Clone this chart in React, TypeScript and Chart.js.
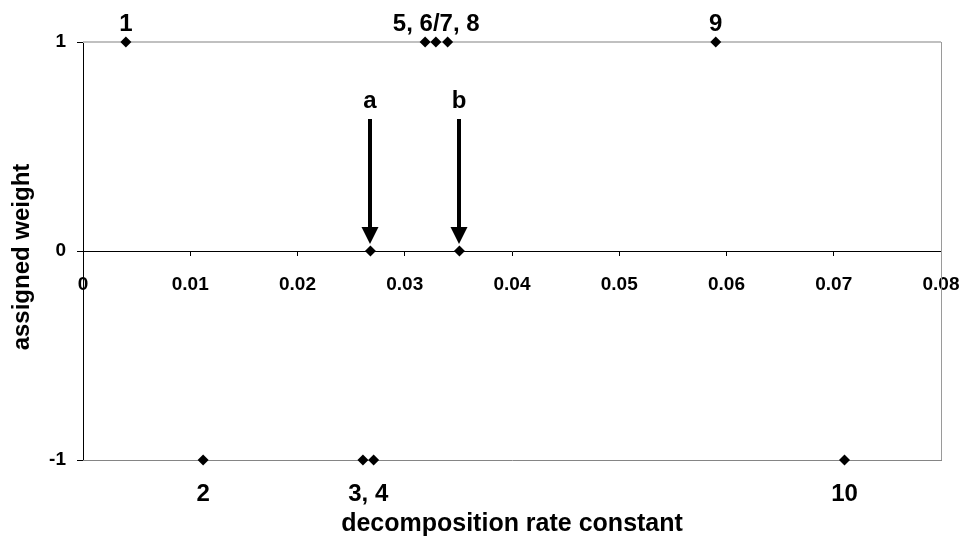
import React, { useEffect, useRef } from "react";
import { Chart, registerables } from "chart.js";

Chart.register(...registerables);

// ---- data ----
const compoundIds = ["1", "2", "3", "4", "5", "6/7", "8", "9", "10"];
const rateConstants = [0.004, 0.0112, 0.0261, 0.0271, 0.0319, 0.0329, 0.034, 0.059, 0.071];
const assignedWeights = [1, -1, -1, -1, 1, 1, 1, 1, -1];

const groupLabels = ["1", "2", "3, 4", "5, 6/7, 8", "9", "10"];
const groupMembers = [[0], [1], [2, 3], [4, 5, 6], [7], [8]];

const markerNames = ["a", "b"];
const markerRates = [0.0268, 0.0351];
const markerWeights = [0, 0];

const xTickMin = 0;
const xTickMax = 0.08;
const xTickStep = 0.01;
const yTickMin = -1;
const yTickMax = 1;
const yTickStep = 1;

const xTitle = "decomposition rate constant";
const yTitle = "assigned weight";

const FONT = '"Liberation Sans", Arial, sans-serif';

const decorPlugin = {
  id: "decor",
  beforeDatasetsDraw(chart: any) {
    const { ctx, chartArea } = chart;
    const { left, right, top, bottom } = chartArea;
    ctx.save();
    // top border
    ctx.strokeStyle = "#c0c0c0";
    ctx.lineWidth = 2;
    ctx.beginPath();
    ctx.moveTo(left, top);
    ctx.lineTo(right, top);
    ctx.stroke();
    // right border
    ctx.strokeStyle = "#9a9a9a";
    ctx.lineWidth = 1;
    ctx.beginPath();
    ctx.moveTo(right + 0.5, top);
    ctx.lineTo(right + 0.5, bottom);
    ctx.stroke();
    // bottom border
    ctx.strokeStyle = "#858585";
    ctx.beginPath();
    ctx.moveTo(left, bottom + 0.5);
    ctx.lineTo(right + 1, bottom + 0.5);
    ctx.stroke();
    ctx.restore();
  },
  afterDraw(chart: any) {
    const { ctx, chartArea, scales } = chart;
    const xs = scales.x;
    const ys = scales.y;
    ctx.save();
    ctx.fillStyle = "#000";
    ctx.strokeStyle = "#000";

    // group labels
    ctx.font = `bold 24px ${FONT}`;
    ctx.textAlign = "center";
    ctx.textBaseline = "alphabetic";
    groupLabels.forEach((lab, i) => {
      const mem = groupMembers[i];
      const xv = mem.reduce((s, k) => s + rateConstants[k], 0) / mem.length;
      const yv = assignedWeights[mem[0]];
      const px = xs.getPixelForValue(xv);
      const py = ys.getPixelForValue(yv);
      const ty = yv > 0 ? py - 11 : py + 41;
      ctx.fillText(lab, px, ty);
    });

    // arrows with labels
    markerNames.forEach((name, i) => {
      const px = Math.round(xs.getPixelForValue(markerRates[i]));
      const py = ys.getPixelForValue(markerWeights[i]);
      const tip = py - 7;
      const headBase = py - 24;
      const shaftTop = py - 132;
      ctx.fillRect(px - 2, shaftTop, 4, headBase - shaftTop + 1);
      ctx.beginPath();
      ctx.moveTo(px - 8.5, headBase);
      ctx.lineTo(px + 8.5, headBase);
      ctx.lineTo(px, tip);
      ctx.closePath();
      ctx.fill();
      ctx.fillText(name, px, py - 143);
    });

    // axis titles
    ctx.font = `bold 25px ${FONT}`;
    ctx.textAlign = "center";
    ctx.textBaseline = "alphabetic";
    ctx.fillText(xTitle, (chartArea.left + chartArea.right) / 2, 531);
    ctx.font = `bold 24px ${FONT}`;
    ctx.translate(29, (chartArea.top + chartArea.bottom) / 2 + 6);
    ctx.rotate(-Math.PI / 2);
    ctx.fillText(yTitle, 0, 0);
    ctx.restore();
  },
};

export default function App() {
  const ref = useRef<HTMLCanvasElement | null>(null);
  useEffect(() => {
    if (!ref.current) return;
    const chart = new Chart(ref.current, {
      type: "scatter",
      data: {
        datasets: [
          {
            label: "compounds",
            data: rateConstants.map((x, i) => ({ x, y: assignedWeights[i] })),
            pointStyle: "rectRot",
            pointRadius: 5.5,
            backgroundColor: "#000",
            borderColor: "#000",
            borderWidth: 0,
            clip: false as any,
          },
          {
            label: "markers",
            data: markerRates.map((x, i) => ({ x, y: markerWeights[i] })),
            pointStyle: "rectRot",
            pointRadius: 5.5,
            backgroundColor: "#000",
            borderColor: "#000",
            borderWidth: 0,
            clip: false as any,
          },
        ],
      },
      options: {
        responsive: false,
        animation: false,
        events: [],
        layout: { padding: { top: 42, right: 22, bottom: 78, left: 0 } },
        plugins: {
          legend: { display: false },
          tooltip: { enabled: false },
          title: { display: false },
        },
        scales: {
          x: {
            type: "linear",
            min: xTickMin,
            max: xTickMax,
            position: { y: 0 } as any,
            border: { display: true, color: "#000", width: 1 },
            grid: { drawOnChartArea: false, drawTicks: true, tickLength: 4, tickColor: "#000" },
            ticks: {
              stepSize: xTickStep,
              color: "#000",
              padding: 18,
              maxRotation: 0,
              autoSkip: false,
              font: { family: FONT, size: 19, weight: "bold" },
              callback: (v: any) => (Number(v) === 0 ? "0" : Number(v).toFixed(2)),
            },
            afterFit: (scale: any) => {
              scale.paddingLeft = 0;
              scale.paddingRight = 0;
            },
          },
          y: {
            type: "linear",
            min: yTickMin,
            max: yTickMax,
            border: { display: true, color: "#000", width: 1 },
            grid: { drawOnChartArea: false, drawTicks: true, tickLength: 6, tickColor: "#000" },
            ticks: {
              stepSize: yTickStep,
              color: "#000",
              padding: 11,
              font: { family: FONT, size: 19, weight: "bold" },
            },
            afterFit: (scale: any) => {
              scale.width = 83;
            },
          },
        },
      },
      plugins: [decorPlugin],
    });
    return () => chart.destroy();
  }, []);
  return (
    <div style={{ position: "absolute", left: 0, top: 0, width: 963, height: 538, background: "#fff" }}>
      <canvas ref={ref} width={963} height={538} />
    </div>
  );
}
